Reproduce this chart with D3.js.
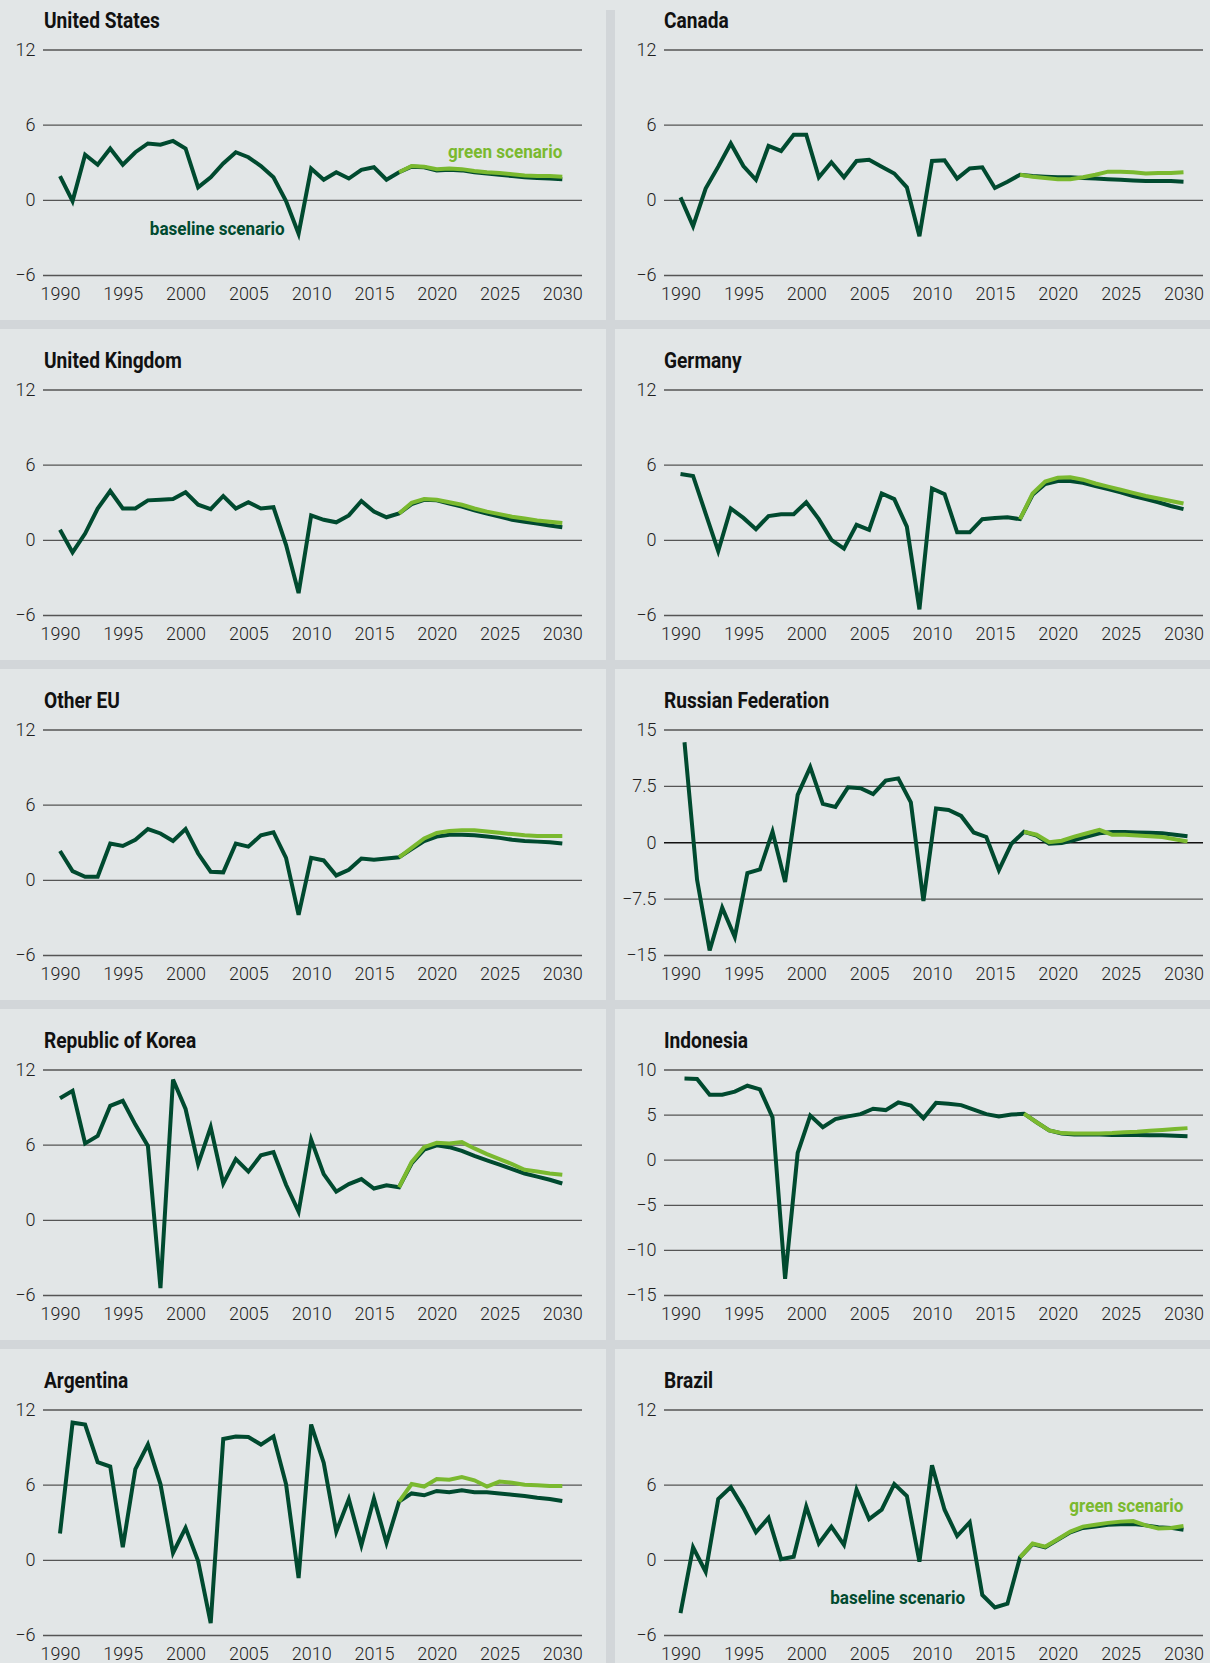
<!DOCTYPE html>
<html>
<head>
<meta charset="utf-8">
<script src="https://cdn.jsdelivr.net/npm/d3@7"></script>
<style>
  body { margin: 0; background: #e2e6e7; }
  svg { display: block; }
  .tick text { font-family: Roboto, "Liberation Sans", sans-serif; font-weight: 300; font-size: 18px; fill: #1e1e1e; }
  .title { font-family: Roboto, "Liberation Sans", sans-serif; font-weight: 700; font-size: 22px; fill: #111; }
  .note { font-family: Roboto, "Liberation Sans", sans-serif; font-weight: 700; font-size: 19px; }
</style>
</head>
<body>
<div id="chart"></div>
<script>
// years
var histYears = d3.range(1990, 2018);
var projYears = d3.range(2018, 2031);
var xTicks = [1990, 1995, 2000, 2005, 2010, 2015, 2020, 2025, 2030];

// y tick sets
var ticksDefault = [-6, 0, 6, 12];
var ticksRussia = [-15, -7.5, 0, 7.5, 15];
var ticksIndonesia = [-15, -10, -5, 0, 5, 10];

// history 1990-2017, baseline + green 2018-2030
var usHistory = [1.9, -0.1, 3.6, 2.8, 4.1, 2.8, 3.8, 4.5, 4.4, 4.7, 4.1, 1.0, 1.8, 2.9, 3.8, 3.4, 2.7, 1.8, -0.1, -2.7, 2.5, 1.6, 2.2, 1.7, 2.4, 2.6, 1.6, 2.2];
var usBaseline = [2.65, 2.6, 2.35, 2.4, 2.35, 2.2, 2.1, 2.0, 1.9, 1.8, 1.75, 1.7, 1.65];
var usGreen = [2.7, 2.65, 2.45, 2.5, 2.45, 2.3, 2.2, 2.15, 2.05, 1.95, 1.9, 1.9, 1.85];

var canadaHistory = [0.2, -2.1, 0.9, 2.65, 4.5, 2.7, 1.6, 4.3, 3.9, 5.2, 5.2, 1.8, 3.0, 1.8, 3.1, 3.2, 2.65, 2.1, 1.0, -2.9, 3.1, 3.15, 1.7, 2.5, 2.6, 0.95, 1.45, 2.0];
var canadaBaseline = [1.9, 1.85, 1.8, 1.8, 1.75, 1.7, 1.65, 1.6, 1.55, 1.5, 1.5, 1.5, 1.45];
var canadaGreen = [1.85, 1.75, 1.65, 1.65, 1.8, 2.0, 2.25, 2.25, 2.2, 2.1, 2.15, 2.15, 2.2];

var ukHistory = [0.8, -1.0, 0.5, 2.5, 3.9, 2.5, 2.5, 3.15, 3.2, 3.25, 3.8, 2.8, 2.45, 3.5, 2.5, 3.0, 2.5, 2.6, -0.4, -4.25, 1.95, 1.6, 1.4, 1.95, 3.1, 2.25, 1.8, 2.1];
var ukBaseline = [2.85, 3.2, 3.15, 2.9, 2.65, 2.35, 2.1, 1.85, 1.6, 1.45, 1.3, 1.15, 1.0];
var ukGreen = [2.95, 3.25, 3.2, 3.0, 2.8, 2.5, 2.25, 2.05, 1.85, 1.7, 1.55, 1.45, 1.35];

var germanyHistory = [5.25, 5.1, 2.1, -0.9, 2.5, 1.75, 0.85, 1.9, 2.05, 2.05, 3.0, 1.65, 0.0, -0.7, 1.2, 0.8, 3.7, 3.25, 1.05, -5.55, 4.1, 3.65, 0.6, 0.6, 1.65, 1.75, 1.8, 1.65];
var germanyBaseline = [3.6, 4.45, 4.7, 4.7, 4.55, 4.3, 4.05, 3.8, 3.5, 3.25, 3.0, 2.7, 2.45];
var germanyGreen = [3.7, 4.65, 4.95, 5.0, 4.8, 4.5, 4.25, 4.0, 3.75, 3.5, 3.3, 3.1, 2.9];

var otherEuHistory = [2.3, 0.7, 0.25, 0.25, 2.9, 2.7, 3.2, 4.05, 3.7, 3.1, 4.05, 2.1, 0.65, 0.6, 2.9, 2.65, 3.55, 3.8, 1.75, -2.8, 1.75, 1.55, 0.35, 0.8, 1.7, 1.6, 1.7, 1.8];
var otherEuBaseline = [2.45, 3.1, 3.45, 3.6, 3.6, 3.55, 3.45, 3.35, 3.2, 3.1, 3.05, 3.0, 2.9];
var otherEuGreen = [2.55, 3.3, 3.75, 3.9, 3.95, 3.95, 3.85, 3.75, 3.65, 3.55, 3.5, 3.5, 3.5];

var russiaHistory = [13.3, -5.0, -14.4, -8.7, -12.6, -4.1, -3.6, 1.4, -5.3, 6.3, 10.0, 5.1, 4.7, 7.3, 7.2, 6.4, 8.2, 8.5, 5.3, -7.8, 4.5, 4.3, 3.5, 1.3, 0.7, -3.7, -0.2, 1.4];
var russiaBaseline = [0.9, -0.2, -0.1, 0.3, 0.75, 1.2, 1.35, 1.35, 1.3, 1.25, 1.2, 1.0, 0.8];
var russiaGreen = [1.0, 0.0, 0.2, 0.75, 1.2, 1.65, 1.0, 1.0, 0.9, 0.8, 0.7, 0.4, 0.1];

var koreaHistory = [9.7, 10.3, 6.1, 6.7, 9.1, 9.5, 7.6, 5.9, -5.45, 11.2, 8.85, 4.45, 7.4, 2.9, 4.85, 3.85, 5.15, 5.4, 2.8, 0.65, 6.4, 3.65, 2.25, 2.85, 3.25, 2.5, 2.75, 2.6];
var koreaBaseline = [4.5, 5.6, 5.95, 5.8, 5.5, 5.1, 4.75, 4.4, 4.05, 3.7, 3.45, 3.2, 2.9];
var koreaGreen = [4.6, 5.8, 6.15, 6.1, 6.2, 5.7, 5.25, 4.85, 4.45, 4.0, 3.85, 3.7, 3.6];

var indonesiaHistory = [9.0, 8.95, 7.2, 7.2, 7.55, 8.2, 7.8, 4.7, -13.2, 0.75, 4.9, 3.6, 4.5, 4.8, 5.05, 5.65, 5.5, 6.35, 6.0, 4.6, 6.3, 6.2, 6.05, 5.55, 5.05, 4.8, 5.0, 5.1];
var indonesiaBaseline = [4.15, 3.25, 2.9, 2.8, 2.8, 2.8, 2.75, 2.75, 2.75, 2.7, 2.7, 2.65, 2.6];
var indonesiaGreen = [4.15, 3.25, 2.95, 2.9, 2.9, 2.9, 2.95, 3.05, 3.1, 3.2, 3.3, 3.4, 3.5];

var argentinaHistory = [2.1, 10.95, 10.8, 7.8, 7.45, 1.0, 7.25, 9.2, 6.05, 0.55, 2.55, -0.1, -5.05, 9.65, 9.85, 9.8, 9.2, 9.85, 6.05, -1.45, 10.8, 7.75, 2.25, 4.85, 1.15, 4.9, 1.35, 4.65];
var argentinaBaseline = [5.3, 5.15, 5.5, 5.4, 5.55, 5.4, 5.4, 5.3, 5.2, 5.1, 4.95, 4.85, 4.7];
var argentinaGreen = [6.05, 5.85, 6.45, 6.4, 6.6, 6.35, 5.85, 6.25, 6.15, 6.0, 5.95, 5.9, 5.9];

var brazilHistory = [-4.25, 1.0, -0.95, 4.85, 5.8, 4.15, 2.2, 3.35, 0.05, 0.25, 4.25, 1.3, 2.65, 1.2, 5.6, 3.25, 4.0, 6.05, 5.1, -0.15, 7.55, 4.0, 1.9, 3.0, -2.8, -3.8, -3.5, 0.2];
var brazilBaseline = [1.25, 1.0, 1.6, 2.2, 2.55, 2.65, 2.8, 2.85, 2.85, 2.75, 2.6, 2.55, 2.4];
var brazilGreen = [1.3, 1.05, 1.65, 2.25, 2.65, 2.8, 2.95, 3.05, 3.1, 2.75, 2.5, 2.55, 2.7];

var panels = [
  { name: "United States", row: 0, col: 0, hist: usHistory, base: usBaseline, green: usGreen, domain: [-6, 12], ticks: ticksDefault,
    notes: [{ text: "green scenario", kind: "green", year: 2030, value: 3.85, anchor: "end" },
            { text: "baseline scenario", kind: "base", year: 1997.15, value: -2.3, anchor: "start" }] },
  { name: "Canada", row: 0, col: 1, hist: canadaHistory, base: canadaBaseline, green: canadaGreen, domain: [-6, 12], ticks: ticksDefault },
  { name: "United Kingdom", row: 1, col: 0, hist: ukHistory, base: ukBaseline, green: ukGreen, domain: [-6, 12], ticks: ticksDefault },
  { name: "Germany", row: 1, col: 1, hist: germanyHistory, base: germanyBaseline, green: germanyGreen, domain: [-6, 12], ticks: ticksDefault },
  { name: "Other EU", row: 2, col: 0, hist: otherEuHistory, base: otherEuBaseline, green: otherEuGreen, domain: [-6, 12], ticks: ticksDefault },
  { name: "Russian Federation", row: 2, col: 1, hist: russiaHistory, base: russiaBaseline, green: russiaGreen, domain: [-15, 15], ticks: ticksRussia, shift: 4, darkZero: true },
  { name: "Republic of Korea", row: 3, col: 0, hist: koreaHistory, base: koreaBaseline, green: koreaGreen, domain: [-6, 12], ticks: ticksDefault },
  { name: "Indonesia", row: 3, col: 1, hist: indonesiaHistory, base: indonesiaBaseline, green: indonesiaGreen, domain: [-15, 10], ticks: ticksIndonesia, shift: 4 },
  { name: "Argentina", row: 4, col: 0, hist: argentinaHistory, base: argentinaBaseline, green: argentinaGreen, domain: [-6, 12], ticks: ticksDefault },
  { name: "Brazil", row: 4, col: 1, hist: brazilHistory, base: brazilBaseline, green: brazilGreen, domain: [-6, 12], ticks: ticksDefault,
    notes: [{ text: "green scenario", kind: "green", year: 2030, value: 4.33, anchor: "end" },
            { text: "baseline scenario", kind: "base", year: 2001.9, value: -3.0, anchor: "start" }] }
];

var darkGreen = "#004a2f";
var lightGreen = "#7ab92f";

// column geometry
var cols = [
  { grid0: 43, grid1: 582, x0: 60, x1: 562.3, titleX: 44 },
  { grid0: 664, grid1: 1203, x0: 680.5, x1: 1183.5, titleX: 664 }
];
var rowStep = 340;

var svg = d3.select("#chart").append("svg")
  .attr("width", 1210)
  .attr("height", 1663);

svg.append("rect")
  .attr("width", 1210)
  .attr("height", 1663)
  .attr("fill", "#e2e6e7");

// separators
svg.selectAll(".hsep")
  .data([0, 1, 2, 3])
  .enter().append("rect")
  .attr("x", 0)
  .attr("y", function(d) { return 320 + d * rowStep; })
  .attr("width", 1210)
  .attr("height", 9)
  .attr("fill", "#d2d6d9");

svg.append("rect")
  .attr("x", 606)
  .attr("y", 10)
  .attr("width", 9)
  .attr("height", 1653)
  .attr("fill", "#d2d6d9");

function fmt(d) {
  return d < 0 ? "\u2212" + Math.abs(d) : String(d);
}

panels.forEach(function(p) {
  var c = cols[p.col];
  var shift = p.shift || 0;
  var g = svg.append("g").attr("transform", "translate(0," + p.row * rowStep + ")");

  var xAxisScale = d3.scaleLinear().domain([1990, 2030]).range([c.x0, c.x1]);
  var x = d3.scaleLinear().domain([1990, 2030]).range([c.x0 + shift, c.x1 + shift]);
  var y = d3.scaleLinear().domain(p.domain).range([275, 49.5]);

  // title
  g.append("text")
    .attr("class", "title")
    .attr("transform", "translate(" + c.titleX + ",27.5) scale(0.87,1)")
    .text(p.name);

  // y grid + labels
  var yAxis = g.append("g")
    .attr("transform", "translate(" + c.grid0 + ",0)")
    .call(d3.axisLeft(y).tickValues(p.ticks).tickSize(-(c.grid1 - c.grid0)).tickPadding(7.5).tickFormat(fmt));
  yAxis.select(".domain").remove();
  yAxis.selectAll(".tick line")
    .attr("stroke", function(d) { return d === 0 && p.darkZero ? "#111" : "#555"; })
    .attr("stroke-width", 1.3);

  // x labels
  var xAxis = g.append("g")
    .attr("transform", "translate(0,275)")
    .call(d3.axisBottom(xAxisScale).tickValues(xTicks).tickSize(0).tickPadding(12).tickFormat(d3.format("d")));
  xAxis.select(".domain").remove();

  var line = d3.line()
    .x(function(d) { return x(d.year); })
    .y(function(d) { return y(d.value); });

  var baseData = histYears.map(function(yr, i) { return { year: yr, value: p.hist[i] }; })
    .concat(projYears.map(function(yr, i) { return { year: yr, value: p.base[i] }; }));
  var greenData = [{ year: 2017, value: p.hist[p.hist.length - 1] }]
    .concat(projYears.map(function(yr, i) { return { year: yr, value: p.green[i] }; }));

  g.append("path")
    .datum(baseData)
    .attr("d", line)
    .attr("fill", "none")
    .attr("stroke", darkGreen)
    .attr("stroke-width", 4);

  g.append("path")
    .datum(greenData)
    .attr("d", line)
    .attr("fill", "none")
    .attr("stroke", lightGreen)
    .attr("stroke-width", 4);

  // scenario labels
  (p.notes || []).forEach(function(n) {
    var tx = x(n.year) - shift;
    g.append("text")
      .attr("class", "note")
      .attr("transform", "translate(" + tx + "," + y(n.value) + ") scale(0.9,1)")
      .attr("dy", "0.36em")
      .attr("text-anchor", n.anchor)
      .attr("fill", n.kind === "green" ? lightGreen : darkGreen)
      .text(n.text);
  });
});
</script>
</body>
</html>
